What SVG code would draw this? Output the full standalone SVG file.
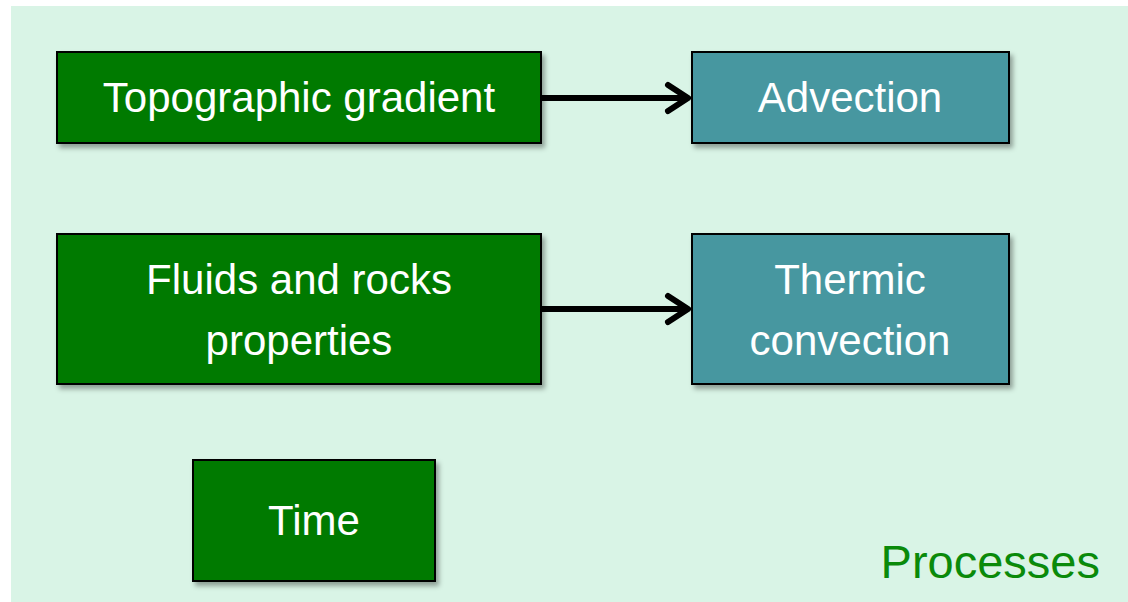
<svg xmlns="http://www.w3.org/2000/svg" width="1128" height="602" viewBox="0 0 1128 602">
<defs>
<filter id="sh" x="-10%" y="-10%" width="130%" height="140%">
<feDropShadow dx="3" dy="4" stdDeviation="2.5" flood-color="#000" flood-opacity="0.35"/>
</filter>
<style>
.g{fill:#007a00;stroke:#000;stroke-width:2;filter:url(#sh)}
.b{fill:#4797a0;stroke:#000;stroke-width:2;filter:url(#sh)}
.t{font-family:"Liberation Sans",Arial,sans-serif;font-size:42px;fill:#fff;text-anchor:middle}
.c{fill:none;stroke:#000;stroke-width:6;stroke-linecap:round;stroke-linejoin:round}
</style>
</defs>
<rect x="11" y="6" width="1117" height="596" fill="#d9f4e6"/>
<g id="connectors">
<path class="c" d="M541 98 H686 M668 85 L688 98 L668 111"/>
<path class="c" d="M541 309 H686 M668 296 L688 309 L668 322"/>
</g>
<g id="topographic">
<rect class="g" x="57" y="52" width="484" height="91"/>
<text class="t" x="299" y="112">Topographic gradient</text>
</g>
<g id="advection">
<rect class="b" x="692" y="52" width="317" height="91"/>
<text class="t" x="850" y="112">Advection</text>
</g>
<g id="fluids">
<rect class="g" x="57" y="234" width="484" height="150"/>
<text class="t" x="299" y="294">Fluids and rocks</text>
<text class="t" x="299" y="355">properties</text>
</g>
<g id="thermic">
<rect class="b" x="692" y="234" width="317" height="150"/>
<text class="t" x="850" y="294">Thermic</text>
<text class="t" x="850" y="355">convection</text>
</g>
<g id="time">
<rect class="g" x="193" y="460" width="242" height="121"/>
<text class="t" x="314" y="535">Time</text>
</g>
<text x="1100" y="578" font-family="'Liberation Sans',Arial,sans-serif" font-size="47" fill="#0a8a0a" text-anchor="end">Processes</text>
</svg>
